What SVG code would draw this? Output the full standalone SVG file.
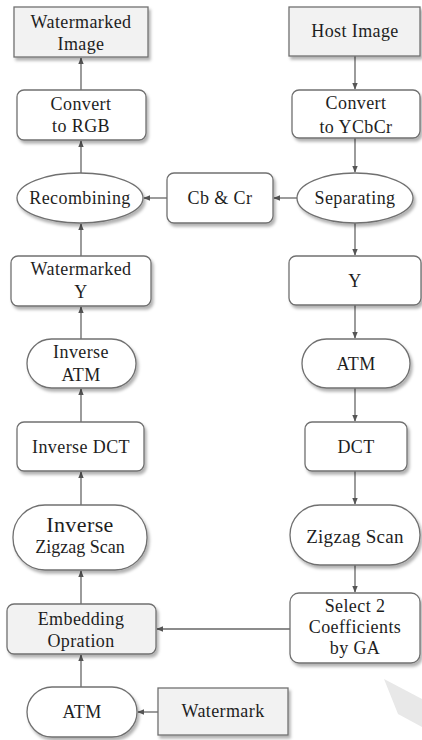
<svg xmlns="http://www.w3.org/2000/svg" width="422" height="740" viewBox="0 0 422 740">
<defs>
<filter id="sh" x="-10%" y="-10%" width="130%" height="140%">
<feDropShadow dx="2" dy="3" stdDeviation="1.8" flood-color="#000" flood-opacity="0.3"/>
</filter>
<marker id="ah" viewBox="0 0 10 10" refX="9" refY="5" markerWidth="7" markerHeight="7" markerUnits="userSpaceOnUse" orient="auto">
<path d="M0,1 L10,5 L0,9 z" fill="#555"/>
</marker>
<style>
.n{fill:#fff;stroke:#707070;stroke-width:1.3;filter:url(#sh)}
.g{fill:#f2f2f2;stroke:#707070;stroke-width:1.3;filter:url(#sh)}
.c line{stroke:#666;stroke-width:1.3;marker-end:url(#ah)}
</style>
</defs>
<rect width="422" height="740" fill="#fff"/>
<path d="M384,679 Q405,690 422,699 L422,727 L398,714 Z" fill="#e8e8e8"/>
<g class="c">
<line x1="81" y1="90" x2="81" y2="58"/>
<line x1="81" y1="173" x2="81" y2="141"/>
<line x1="81" y1="256" x2="81" y2="224"/>
<line x1="81" y1="339" x2="81" y2="307"/>
<line x1="81" y1="422" x2="81" y2="389"/>
<line x1="81" y1="505" x2="81" y2="472"/>
<line x1="81" y1="604" x2="81" y2="571"/>
<line x1="81" y1="687" x2="81" y2="655"/>
<line x1="158" y1="712" x2="138" y2="712"/>
<line x1="290" y1="629" x2="157" y2="629"/>
<line x1="167" y1="198" x2="144" y2="198"/>
<line x1="297" y1="198" x2="274" y2="198"/>
<line x1="355" y1="56" x2="355" y2="89"/>
<line x1="355" y1="138" x2="355" y2="172"/>
<line x1="355" y1="223" x2="355" y2="255"/>
<line x1="355" y1="305" x2="355" y2="338"/>
<line x1="355" y1="388" x2="355" y2="421"/>
<line x1="355" y1="471" x2="355" y2="504"/>
<line x1="355" y1="565" x2="355" y2="592"/>
</g>
<g font-family="Liberation Serif, serif" font-size="18" fill="#1e1e1e" text-anchor="middle" letter-spacing="0.4">
<g id="watermarked-image"><rect class="g" x="14" y="7" width="134" height="50"/><text x="81" y="28">Watermarked</text><text x="81" y="50">Image</text></g>
<g id="convert-rgb"><rect class="n" x="17" y="90" width="129" height="50" rx="7"/><text x="81" y="110">Convert</text><text x="81" y="132">to RGB</text></g>
<g id="recombining"><ellipse class="n" cx="80" cy="198" rx="63" ry="25"/><text x="80" y="204">Recombining</text></g>
<g id="cbcr"><rect class="n" x="167" y="173" width="106" height="50" rx="7"/><text x="220" y="204">Cb &amp; Cr</text></g>
<g id="separating"><ellipse class="n" cx="355" cy="198" rx="58" ry="25"/><text x="355" y="204">Separating</text></g>
<g id="host-image"><rect class="g" x="289" y="7" width="131" height="49"/><text x="355" y="37">Host Image</text></g>
<g id="convert-ycbcr"><rect class="n" x="292" y="90" width="128" height="48" rx="7"/><text x="356" y="109">Convert</text><text x="356" y="133">to YCbCr</text></g>
<g id="watermarked-y"><rect class="n" x="11" y="256" width="140" height="50" rx="7"/><text x="81" y="275">Watermarked</text><text x="81" y="298">Y</text></g>
<g id="y"><rect class="n" x="289" y="256" width="132" height="49" rx="7"/><text x="355" y="287">Y</text></g>
<g id="inverse-atm"><rect class="n" x="27" y="339" width="109" height="49" rx="24.5"/><text x="81" y="358">Inverse</text><text x="81" y="381">ATM</text></g>
<g id="atm-right"><rect class="n" x="302" y="339" width="108" height="49" rx="24.5"/><text x="356" y="370">ATM</text></g>
<g id="inverse-dct"><rect class="n" x="17" y="422" width="127" height="49" rx="7"/><text x="81" y="453">Inverse DCT</text></g>
<g id="dct"><rect class="n" x="305" y="422" width="102" height="49" rx="7"/><text x="356" y="453">DCT</text></g>
<g id="inverse-zigzag"><rect class="n" x="13" y="505" width="134" height="65" rx="32"/><text x="80" y="532" font-size="22">Inverse</text><text x="80" y="553" letter-spacing="0">Zigzag Scan</text></g>
<g id="zigzag"><rect class="n" x="290" y="505" width="130" height="60" rx="30"/><text x="355" y="543" font-size="19" letter-spacing="0.3">Zigzag Scan</text></g>
<g id="embedding"><rect class="g" x="7" y="604" width="149" height="50" rx="7"/><text x="81" y="625">Embedding</text><text x="81" y="647">Opration</text></g>
<g id="select"><rect class="n" x="290" y="593" width="130" height="70" rx="9"/><text x="355" y="612">Select 2</text><text x="355" y="633">Coefficients</text><text x="355" y="654">by GA</text></g>
<g id="atm-left"><rect class="n" x="27" y="687" width="110" height="50" rx="25"/><text x="82" y="718">ATM</text></g>
<g id="watermark"><rect class="g" x="158" y="688" width="130" height="47"/><text x="223" y="717">Watermark</text></g>
</g>
</svg>
